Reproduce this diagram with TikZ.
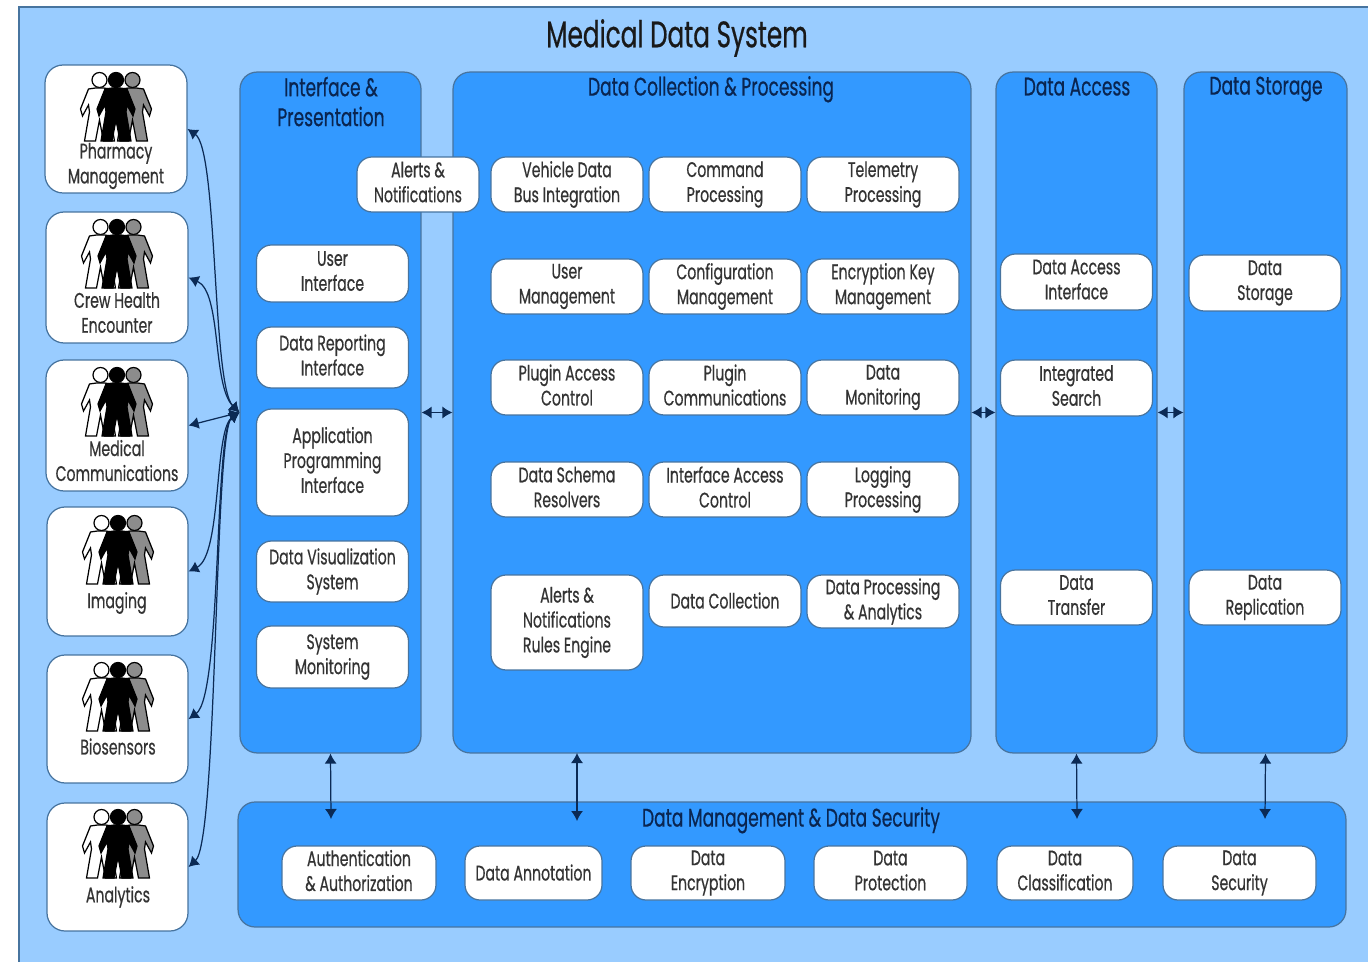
\documentclass[tikz,border=0pt]{standalone}
\usepackage{fontspec}
\setmainfont[FakeStretch=0.67,FakeBold=0.5]{Poppins}
\usetikzlibrary{arrows.meta}
\definecolor{skyback}{HTML}{99CCFF}
\definecolor{panelblue}{HTML}{3399FF}
\definecolor{edgeblue}{HTML}{47749F}
\definecolor{navyline}{HTML}{0B2A55}
\definecolor{headtext}{HTML}{0A2550}
\newcommand{\linestrut}{\rule[-2.9pt]{0pt}{14.3pt}}
\tikzset{
	box/.style={rectangle,draw=edgeblue,line width=0.7pt,fill=white,rounded corners=0.3cm,
		minimum width=3.04cm,minimum height=1.1cm,inner sep=0pt,align=center,text=black!80,
		font=\fontsize{12}{14.2}\selectfont,execute at begin node=\linestrut,execute at end node=\linestrut},
	actor/.style={box,rounded corners=0.36cm,minimum width=2.84cm,minimum height=2.6cm},
	actorlabel/.style={align=center,inner sep=0pt,text=black!80,font=\fontsize{12}{14.2}\selectfont,
		execute at begin node=\linestrut,execute at end node=\linestrut},
	panel/.style={rectangle,draw=edgeblue,line width=0.7pt,fill=panelblue,rounded corners=0.34cm,inner sep=0pt},
	head/.style={align=center,inner sep=0pt,text=headtext,font=\fontsize{14.5}{17}\selectfont,
		execute at begin node=\linestrut,execute at end node=\linestrut},
	link/.style={<->,>={Latex[length=0.2cm,width=0.24cm]},draw=navyline,line width=0.7pt},
	figure/.pic={
		\path[pic actions] (0,0) circle (7.5);
		\path[pic actions] (-4,8) -- (-11,9) -- (-19,29) -- (-17,36) -- (-11,25) -- (-10,32) -- (-15,61)
			-- (-4,61) -- (0,40) -- (4,61) -- (15,61) -- (10,32) -- (11,25) -- (17,36) -- (19,29) -- (11,9) -- (4,8) -- cycle;
	},
	crowd/.pic={
		\pic[draw=black,fill=white,line width=0.7pt] at (-16.5,0) {figure};
		\pic[draw=black,fill=black!45,line width=0.7pt] at (16.5,0) {figure};
		\pic[draw=black,fill=black,line width=0.7pt] at (0,0) {figure};
	}
}

\begin{document}
\begin{tikzpicture}[x=0.02cm,y=-0.02cm]
	\useasboundingbox (0,0) rectangle (1368,962);

	\node[rectangle,draw=edgeblue,line width=1pt,fill=skyback,minimum width=27.06cm,minimum height=19.18cm,inner sep=0pt] (frame) at (695.5,486.5) {};
	\node[inner sep=0pt,text=black!90,font=\fontsize{21}{25}\selectfont] (title) at (677,38) {Medical Data System};

	% actors
	\node[actor,minimum height=2.56cm] (pharm) at (116,129) {};
	\node[actor,minimum height=2.62cm] (crew) at (117,277.5) {};
	\node[actor,minimum height=2.62cm] (medical) at (117,425.5) {};
	\node[actor,minimum width=2.82cm,minimum height=2.58cm] (imaging) at (117.5,571.5) {};
	\node[actor,minimum width=2.82cm,minimum height=2.56cm] (biosensors) at (117.5,719) {};
	\node[actor,minimum width=2.82cm,minimum height=2.56cm] (analytics) at (117.5,867) {};

	\pic at (116,80) {crowd};
	\pic at (117,227) {crowd};
	\pic at (117,375) {crowd};
	\pic at (118,523) {crowd};
	\pic at (118,670) {crowd};
	\pic at (118,817) {crowd};

	\node[actorlabel] (pharmlabel) at (116,166) {Pharmacy\\Management};
	\node[actorlabel] (crewlabel) at (117,315) {Crew Health\\Encounter};
	\node[actorlabel] (medicallabel) at (117,463) {Medical\\Communications};
	\node[actorlabel] (imaginglabel) at (117,601) {Imaging};
	\node[actorlabel] (biosensorslabel) at (118,747) {Biosensors};
	\node[actorlabel] (analyticslabel) at (118,895) {Analytics};

	% panels
	\node[panel,minimum width=3.62cm,minimum height=13.62cm] (iface) at (330.5,412.5) {};
	\node[panel,minimum width=10.36cm,minimum height=13.62cm] (collect) at (712,412.5) {};
	\node[panel,minimum width=3.22cm,minimum height=13.62cm] (access) at (1076.5,412.5) {};
	\node[panel,minimum width=3.26cm,minimum height=13.62cm] (storage) at (1265.5,412.5) {};
	\node[panel,minimum width=22.16cm,minimum height=2.5cm] (manage) at (792,864.5) {};

	\node[head] (ifacehead) at (331,104) {Interface \&\\Presentation};
	\node[head] (collecthead) at (711,89) {Data Collection \& Processing};
	\node[head] (accesshead) at (1077,88) {Data Access};
	\node[head] (storagehead) at (1266,88) {Data Storage};
	\node[head] (managehead) at (791,820) {Data Management \& Data Security};

	% interface and presentation
	\node[box,minimum width=2.44cm] (alerts) at (418,184.5) {Alerts \&\\Notifications};
	\node[box,minimum height=1.14cm] (user) at (332.5,273.5) {User\\Interface};
	\node[box,minimum height=1.22cm] (report) at (332.5,357.5) {Data Reporting\\Interface};
	\node[box,minimum height=2.14cm] (api) at (332.5,462.5) {Application\\Programming\\Interface};
	\node[box,minimum height=1.22cm] (visual) at (332.5,571.5) {Data Visualization\\System};
	\node[box,minimum height=1.24cm] (monitor) at (332.5,657) {System\\Monitoring};

	% data collection and processing
	\node[box] (vehicle) at (567,184.5) {Vehicle Data\\Bus Integration};
	\node[box] (command) at (725,184.5) {Command\\Processing};
	\node[box] (telemetry) at (883,184.5) {Telemetry\\Processing};
	\node[box] (usermgmt) at (567,286.5) {User\\Management};
	\node[box] (config) at (725,286.5) {Configuration\\Management};
	\node[box] (keymgmt) at (883,286.5) {Encryption Key\\Management};
	\node[box] (plugin) at (567,387.5) {Plugin Access\\Control};
	\node[box] (plugincomm) at (725,387.5) {Plugin\\Communications};
	\node[box] (datamon) at (883,387.5) {Data\\Monitoring};
	\node[box] (schema) at (567,489.5) {Data Schema\\Resolvers};
	\node[box] (ifaceaccess) at (725,489.5) {Interface Access\\Control};
	\node[box] (logging) at (883,489.5) {Logging\\Processing};
	\node[box,minimum height=1.9cm] (rules) at (567,622.5) {Alerts \&\\Notifications\\Rules Engine};
	\node[box,minimum height=1.04cm] (datacoll) at (725,601) {Data Collection};
	\node[box,minimum height=1.06cm] (analysis) at (883,601.5) {Data Processing\\\& Analytics};

	% data access
	\node[box,minimum height=1.12cm] (accessif) at (1076.5,282) {Data Access\\Interface};
	\node[box,minimum height=1.12cm] (search) at (1076.5,388) {Integrated\\Search};
	\node[box] (transfer) at (1076.5,597.5) {Data\\Transfer};

	% data storage
	\node[box,minimum height=1.12cm] (store) at (1265,283) {Data\\Storage};
	\node[box] (replica) at (1265,597.5) {Data\\Replication};

	% data management and security
	\node[box,minimum width=3.08cm,minimum height=1.08cm] (auth) at (359,873) {Authentication\\\& Authorization};
	\node[box,minimum width=2.74cm,minimum height=1.08cm] (annotate) at (533.5,873) {Data Annotation};
	\node[box,minimum width=3.08cm,minimum height=1.08cm] (encrypt) at (708,873) {Data\\Encryption};
	\node[box,minimum width=3.06cm,minimum height=1.08cm] (protect) at (890.5,873) {Data\\Protection};
	\node[box,minimum width=2.72cm,minimum height=1.08cm] (classify) at (1065,873) {Data\\Classification};
	\node[box,minimum width=3.06cm,minimum height=1.08cm] (secure) at (1239.5,873) {Data\\Security};

	\coordinate (collectfoot) at (577,753);
	\coordinate (ifacedrop) at (331,819);
	\coordinate (collectdrop) at (577,821);
	\coordinate (accessdrop) at (1077,819);
	\coordinate (storagedrop) at (1265,819);

	\path[link] (iface.west) .. controls (212,385) and (218,150) .. (pharm.east);
	\path[link] (iface.west) .. controls (212,385) and (222,292) .. (crew.east);
	\path[link] (iface.west) -- (medical.east);
	\path[link] (iface.west) .. controls (214,430) and (222,555) .. (imaging.east);
	\path[link] (iface.west) .. controls (214,430) and (222,695) .. (biosensors.east);
	\path[link] (iface.west) .. controls (214,430) and (218,840) .. (analytics.east);

	\path[link] (iface.east) -- (collect.west);
	\path[link] (collect.east) -- (access.west);
	\path[link] (access.east) -- (storage.west);

	\path[link] (iface.south) -- (ifacedrop);
	\path[link] (collectfoot) -- (collectdrop);
	\path[link] (access.south) -- (accessdrop);
	\path[link] (storage.south) -- (storagedrop);
\end{tikzpicture}
\end{document}
